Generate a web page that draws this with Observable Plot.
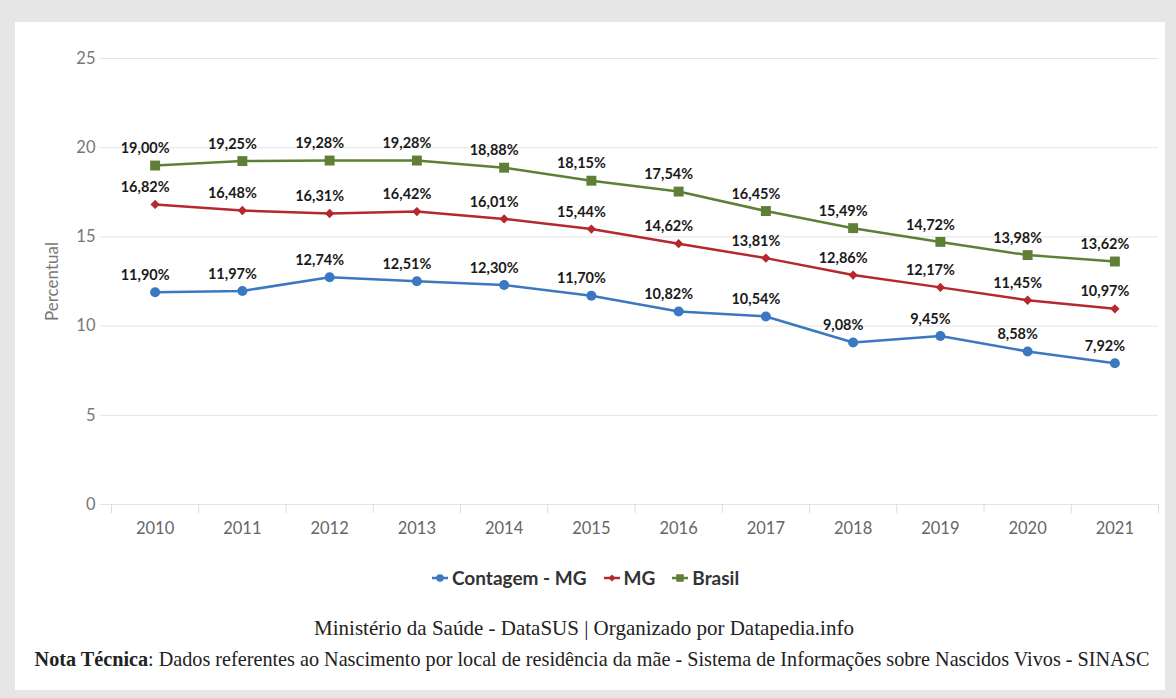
<!DOCTYPE html>
<html><head><meta charset="utf-8">
<script src="https://cdn.jsdelivr.net/npm/d3@7"></script>
<script src="https://cdn.jsdelivr.net/npm/@observablehq/plot@0.6"></script>
<style>
html,body{margin:0;padding:0;background:#e6e6e6;width:1176px;height:698px;overflow:hidden;}
#panel{position:absolute;left:15px;top:22px;width:1150px;height:668px;background:#fff;}
#chart{position:absolute;left:0;top:0;}
#legend{position:absolute;top:544px;left:416px;display:flex;align-items:center;font-family:Lato,sans-serif;font-weight:bold;font-size:19px;color:#333;white-space:nowrap;}
#legend .item{display:flex;align-items:center;margin-right:16px;}
#legend svg{margin-right:3px;}
.foot{position:absolute;left:0;width:100%;text-align:center;font-family:"Liberation Serif",serif;color:#222;white-space:nowrap;}
</style></head>
<body>
<div id="panel">
  <div id="chart"></div>
  <div id="legend"></div>
  <div class="foot" id="f1" style="top:594px;font-size:21px;left:-6px;">Ministério da Saúde - DataSUS | Organizado por Datapedia.info</div>
  <div class="foot" id="f2" style="top:626px;font-size:20.2px;left:2px;"><b>Nota Técnica</b>: Dados referentes ao Nascimento por local de residência da mãe - Sistema de Informações sobre Nascidos Vivos - SINASC</div>
</div>
<script>
const years = [2010, 2011, 2012, 2013, 2014, 2015, 2016, 2017, 2018, 2019, 2020, 2021];
const contagem = [11.90, 11.97, 12.74, 12.51, 12.30, 11.70, 10.82, 10.54, 9.08, 9.45, 8.58, 7.92];
const mg = [16.82, 16.48, 16.31, 16.42, 16.01, 15.44, 14.62, 13.81, 12.86, 12.17, 11.45, 10.97];
const brasil = [19.00, 19.25, 19.28, 19.28, 18.88, 18.15, 17.54, 16.45, 15.49, 14.72, 13.98, 13.62];
const seriesNames = ["Contagem - MG", "MG", "Brasil"];
const seriesColors = ["#3b78c0", "#b5282d", "#5f7f37"];
const yTicks = [0, 5, 10, 15, 20, 25];

const seriesValues = [contagem, mg, brasil];
const symbols = ["circle", "diamond2", "square"];
const radii = [5, 4.2, 5.6];
const data = seriesNames.flatMap((s, i) => years.map((yr, j) => ({series: s, year: yr, value: seriesValues[i][j]})));
const fmt = v => v.toFixed(2).replace(".", ",") + "%";
const boundaries = years.map(y => y - 0.5).concat([years[years.length - 1] + 0.5]);

const plot = Plot.plot({
  width: 1150, height: 520,
  marginTop: 36, marginBottom: 38, marginLeft: 96, marginRight: 7,
  x: {domain: [years[0] - 0.5, years[years.length - 1] + 0.5], axis: null},
  y: {domain: [0, 25], axis: null},
  color: {domain: seriesNames, range: seriesColors},
  style: {fontFamily: "Lato, sans-serif", background: "transparent"},
  marks: [
    Plot.gridY(yTicks, {stroke: "#e4e4e4", strokeOpacity: 1}),
    Plot.axisY(yTicks, {tickSize: 11, tickPadding: 5, stroke: "#e4e4e4", color: "#777", fontSize: 16.5, label: null}),
    Plot.axisX(boundaries, {tickSize: 9, stroke: "#dcdcdc", tickFormat: () => "", label: null}),
    Plot.axisX(years, {tickSize: 0, tickPadding: 18, color: "#666", fontSize: 16.5, tickFormat: d => String(d), label: null}),
    Plot.text(["Percentual"], {frameAnchor: "left", textAnchor: "middle", rotate: -90, dx: -59, fontSize: 17, fill: "#777"}),
    Plot.line(data, {x: "year", y: "value", stroke: "series", strokeWidth: 2.5}),
    ...seriesNames.map((s, i) => Plot.dot(data.filter(d => d.series === s), {x: "year", y: "value", symbol: symbols[i], r: radii[i], fill: seriesColors[i], stroke: "none"})),
    Plot.text(data, {x: "year", y: "value", text: d => fmt(d.value), dx: -10, dy: -17, fontWeight: "bold", fontSize: 14.5, fill: "#1a1a1a"})
  ]
});
document.getElementById("chart").appendChild(plot);

const legend = document.getElementById("legend");
seriesNames.forEach((s, i) => {
  const item = document.createElement("div");
  item.className = "item";
  const sym = d3.symbol(symbols[i] === "circle" ? d3.symbolCircle : symbols[i] === "square" ? d3.symbolSquare : d3.symbolDiamond2, Math.PI * (radii[i] * 0.75) ** 2)();
  item.innerHTML = `<svg width="18" height="14"><line x1="1" x2="17" y1="7" y2="7" stroke="${seriesColors[i]}" stroke-width="2.5"/><path d="${sym}" transform="translate(9,7)" fill="${seriesColors[i]}"/></svg><span>${s}</span>`;
  legend.appendChild(item);
});
</script>
</body></html>
